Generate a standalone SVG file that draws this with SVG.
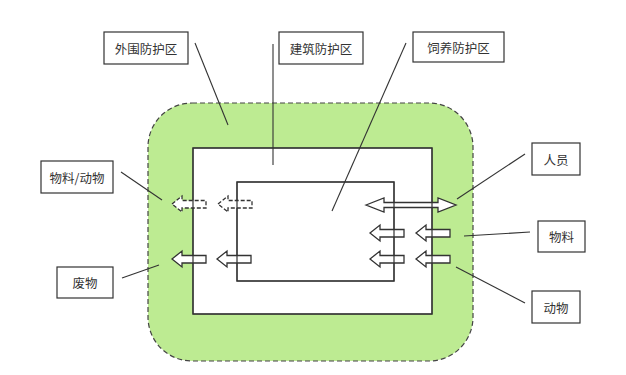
<svg xmlns="http://www.w3.org/2000/svg" width="626" height="375" viewBox="0 0 626 375">
<style>
.box{fill:#fff;stroke:#333;stroke-width:1.2}
.zone{fill:#fff;stroke:#333;stroke-width:1.2}
.t{font-family:"Noto Sans CJK SC","Noto Sans",sans-serif;font-size:12.5px;fill:#333;text-anchor:middle;dominant-baseline:central}
.ln{stroke:#333;stroke-width:1.1;fill:none}
.ar{fill:#fff;stroke:#333;stroke-width:1.3;stroke-linejoin:miter}
.da{fill:#fff;stroke:#333;stroke-width:1.3;stroke-dasharray:4 2}
</style>
<rect width="626" height="375" fill="#fff"/>
<g id="outer-zone">
<rect x="148" y="103" width="325" height="258" rx="44" ry="44" fill="#bdeb92" stroke="#444" stroke-width="1.2" stroke-dasharray="5 3"/>
</g>
<g id="building-zone">
<rect class="zone" x="193" y="148" width="239" height="166"/>
</g>
<g id="feeding-zone">
<rect class="zone" x="237" y="182" width="157" height="99"/>
</g>
<g id="arrows">
<path class="da" d="M172,204 L182,196 L182,200.5 L206,200.5 L206,208 L182,208 L182,212 Z"/>
<path class="da" d="M218,204 L228,196 L228,200.5 L252,200.5 L252,208 L228,208 L228,212 Z"/>
<path class="ar" d="M172,259 L182,251 L182,255.5 L206,255.5 L206,263 L182,263 L182,267 Z"/>
<path class="ar" d="M217,259 L227,251 L227,255.5 L251,255.5 L251,263 L227,263 L227,267 Z"/>
<path class="ar" d="M366,205 L384,198 L384,202.5 L438,202.5 L438,198 L456,205 L438,212 L438,207.5 L384,207.5 L384,212 Z"/>
<path class="ar" d="M370,233 L380,225 L380,229.5 L404,229.5 L404,237 L380,237 L380,241 Z"/>
<path class="ar" d="M416,233 L426,225 L426,229.5 L450,229.5 L450,237 L426,237 L426,241 Z"/>
<path class="ar" d="M370,259 L380,251 L380,255.5 L404,255.5 L404,263 L380,263 L380,267 Z"/>
<path class="ar" d="M416,259 L426,251 L426,255.5 L450,255.5 L450,263 L426,263 L426,267 Z"/>
</g>
<g id="zone-lines" fill="none" stroke="#333" stroke-width="1.2">
<rect x="193" y="148" width="239" height="166"/>
<rect x="237" y="182" width="157" height="99"/>
</g>
<g id="connectors">
<line class="ln" x1="195" y1="43" x2="228" y2="125"/>
<line class="ln" x1="273" y1="44" x2="273" y2="165"/>
<line class="ln" x1="406" y1="43" x2="332" y2="211"/>
<line class="ln" x1="121" y1="172" x2="162" y2="200"/>
<line class="ln" x1="122" y1="278" x2="159" y2="265"/>
<line class="ln" x1="525" y1="154" x2="457" y2="199"/>
<line class="ln" x1="464" y1="236" x2="530" y2="232"/>
<line class="ln" x1="456" y1="267" x2="525" y2="303"/>
</g>
<g id="label-outer"><rect class="box" x="104" y="32" width="84" height="32"/><text class="t" x="146" y="48">外围防护区</text></g>
<g id="label-building"><rect class="box" x="279" y="32" width="84" height="32"/><text class="t" x="321" y="48">建筑防护区</text></g>
<g id="label-feeding"><rect class="box" x="413" y="32" width="91" height="30"/><text class="t" x="458.5" y="47">饲养防护区</text></g>
<g id="label-material-animal"><rect class="box" x="41" y="161" width="72" height="32"/><text class="t" x="77" y="177">物料/动物</text></g>
<g id="label-waste"><rect class="box" x="57" y="267" width="56" height="31"/><text class="t" x="85" y="282.5">废物</text></g>
<g id="label-personnel"><rect class="box" x="532" y="143" width="48" height="32"/><text class="t" x="556" y="159">人员</text></g>
<g id="label-material"><rect class="box" x="538" y="221" width="47" height="31"/><text class="t" x="561.5" y="236.5">物料</text></g>
<g id="label-animal"><rect class="box" x="532" y="291" width="48" height="32"/><text class="t" x="556" y="307">动物</text></g>
</svg>
